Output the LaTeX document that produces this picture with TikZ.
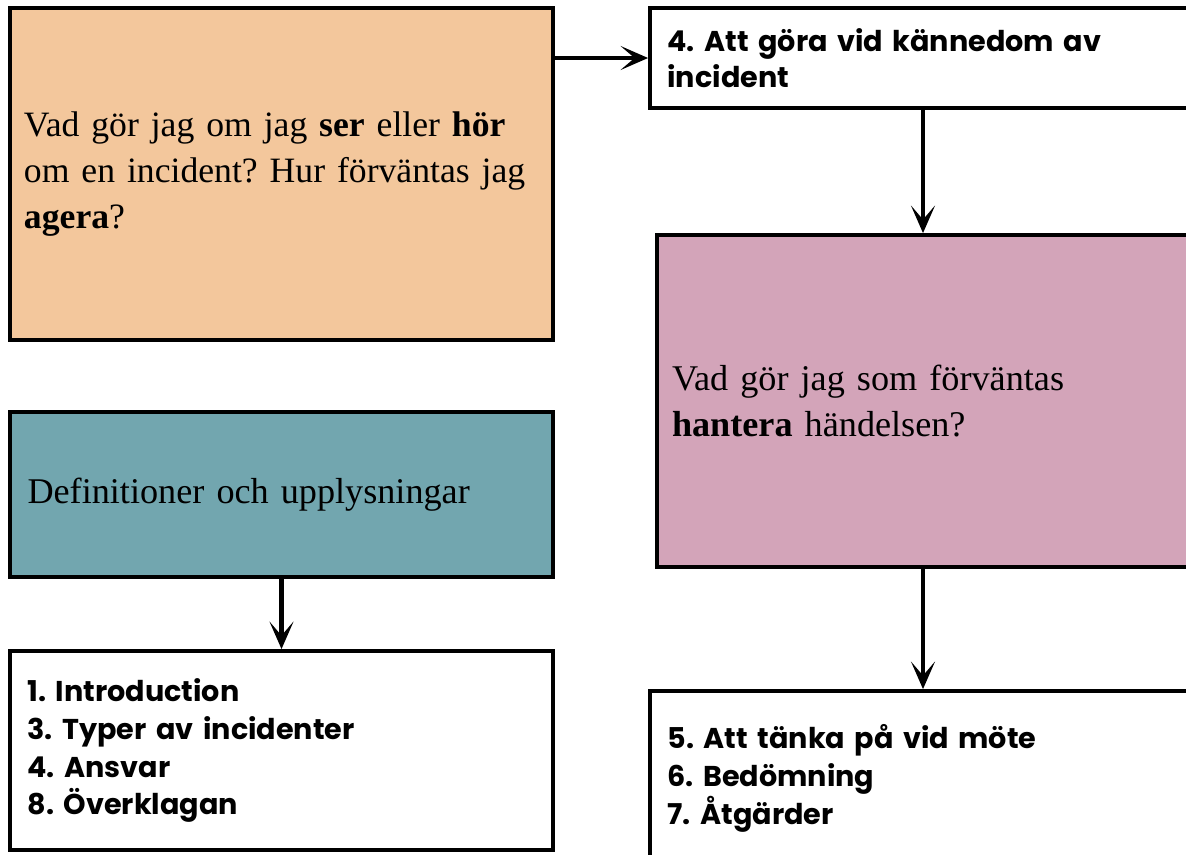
\documentclass[tikz,border=0pt]{standalone}
\usepackage{fontspec}
\setmainfont{Liberation Serif}
\newfontfamily\gothic{Poppins}
\usetikzlibrary{arrows.meta}
\definecolor{orangebox}{HTML}{F3C79C}
\definecolor{pinkbox}{HTML}{D3A4B9}
\definecolor{tealbox}{HTML}{72A6AF}
\frenchspacing

\begin{document}
\begin{tikzpicture}
\tikzstyle{ruta}=[rectangle,draw,line width=2.2pt,inner sep=0.35cm]
\tikzstyle{fraga}=[ruta,align=left,font=\fontsize{20.6}{26.2}\selectfont]
\tikzstyle{kapitel}=[ruta,align=left,font=\gothic\bfseries\fontsize{16.3}{21.6}\selectfont]
\tikzstyle{pil}=[-{Stealth[length=0.55cm,width=0.48cm,inset=0.28cm]},line width=2.4pt]
\clip (0,0) rectangle (23.72,-17.08);
\fill[white] (0,0) rectangle (23.72,-17.08);
\node[fraga,fill=orangebox,minimum width=10.86cm,minimum height=6.64cm,text width=10.3cm,inner xsep=0.28cm,font=\fontsize{20.3}{26.2}\selectfont] (agera) at (5.63,-3.48)
  {Vad gör jag om jag \textbf{ser} eller \textbf{hör}\\om en incident? Hur förväntas jag\\\textbf{agera}?};
\node[kapitel,minimum width=11.2cm,minimum height=2cm,text width=10.5cm,font=\gothic\bfseries\fontsize{16.3}{20.5}\selectfont] (kannedom) at (18.6,-1.16)
  {4. Att göra vid kännedom av\\incident};
\node[fraga,fill=pinkbox,minimum width=11.06cm,minimum height=6.64cm,text width=10.46cm,inner sep=0.3cm] (hantera) at (18.67,-8.02)
  {Vad gör jag som förväntas\\\textbf{hantera} händelsen?};
\node[fraga,fill=tealbox,minimum width=10.86cm,minimum height=3.3cm,text width=10.16cm] (def) at (5.63,-9.89)
  {Definitioner och upplysningar};
\node[kapitel,minimum width=10.86cm,minimum height=3.98cm,text width=10.16cm] (lista) at (5.63,-15.01)
  {1. Introduction\\3. Typer av incidenter\\4. Ansvar\\8. Överklagan};
\node[kapitel,minimum width=11.18cm,minimum height=3.5cm,text width=10.5cm] (mote) at (18.6,-15.57)
  {5. Att tänka på vid möte\\6. Bedömning\\7. Åtgärder};
\coordinate (axel) at (18.46,0);
%pilar
\draw[pil] (kannedom.west -| agera.east)--(kannedom.west);
\draw[pil] (kannedom.south -| axel)--(hantera.north -| axel);
\draw[pil] (hantera.south -| axel)--(mote.north -| axel);
\draw[pil] (def.south)--(lista.north);
\end{tikzpicture}
\end{document}
